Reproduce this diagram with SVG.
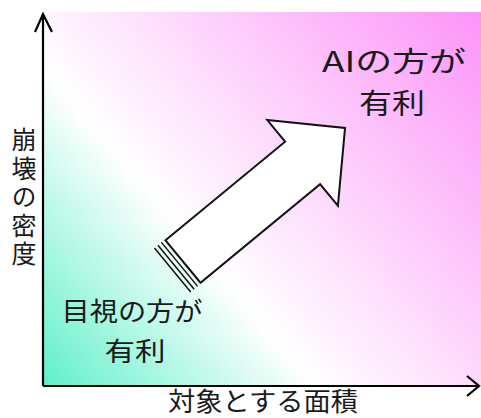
<svg xmlns="http://www.w3.org/2000/svg" width="481" height="418" viewBox="0 0 481 418">
<style>
  .t { font-family: "Noto Sans CJK JP", "Noto Sans", sans-serif; fill: #1a1a1a; }
  .ax { stroke: #000; stroke-width: 2.2; fill: none; }
  .arr { stroke: #111; stroke-width: 2; fill: #fff; stroke-linejoin: miter; }
  .str { stroke: #111; stroke-width: 1.5; fill: none; }
</style>
<defs>
  <linearGradient id="bg" gradientUnits="userSpaceOnUse" x1="43" y1="386" x2="481" y2="12">
    <stop offset="0" stop-color="#5ff0c8"/>
    <stop offset="0.36" stop-color="#ffffff"/>
    <stop offset="1" stop-color="#fc94f8"/>
  </linearGradient>
</defs>
<rect x="43" y="12" width="438" height="374" fill="url(#bg)"/>
<g id="connectors">
  <path class="ax" d="M43,386 V14 M35,32 L43,14 L52,32"/>
  <path class="ax" d="M43,386 H479 M467,376 L479,386 L467,396"/>
</g>
<g id="arrow" transform="translate(183,261.5) rotate(-39.5)">
  <polygon class="arr" points="0,-27.5 155,-27.5 155,-55.5 210,0 155,55.5 155,27.5 0,27.5"/>
  <line class="str" x1="-4.5" y1="-28.5" x2="-4.5" y2="28.5"/>
  <line class="str" x1="-9" y1="-28.5" x2="-9" y2="28.5"/>
  <line class="str" x1="-13.5" y1="-28.5" x2="-13.5" y2="28.5"/>
</g>
<g id="ai-label">
  <text class="t" x="394" y="72" font-size="28" text-anchor="middle" textLength="144" lengthAdjust="spacingAndGlyphs">AIの方が</text>
  <text class="t" x="392" y="114" font-size="28" text-anchor="middle" textLength="66" lengthAdjust="spacingAndGlyphs">有利</text>
</g>
<g id="visual-label">
  <text class="t" x="132" y="321" font-size="26" text-anchor="middle" textLength="141" lengthAdjust="spacingAndGlyphs">目視の方が</text>
  <text class="t" x="135" y="361" font-size="26" text-anchor="middle" textLength="61" lengthAdjust="spacingAndGlyphs">有利</text>
</g>
<g id="y-label">
  <text class="t" x="24" y="127" font-size="25" letter-spacing="3.5" style="writing-mode: vertical-rl; text-orientation: upright;">崩壊の密度</text>
</g>
<g id="x-label">
  <text class="t" x="263" y="411" font-size="26" text-anchor="middle" textLength="190" lengthAdjust="spacingAndGlyphs">対象とする面積</text>
</g>
</svg>
